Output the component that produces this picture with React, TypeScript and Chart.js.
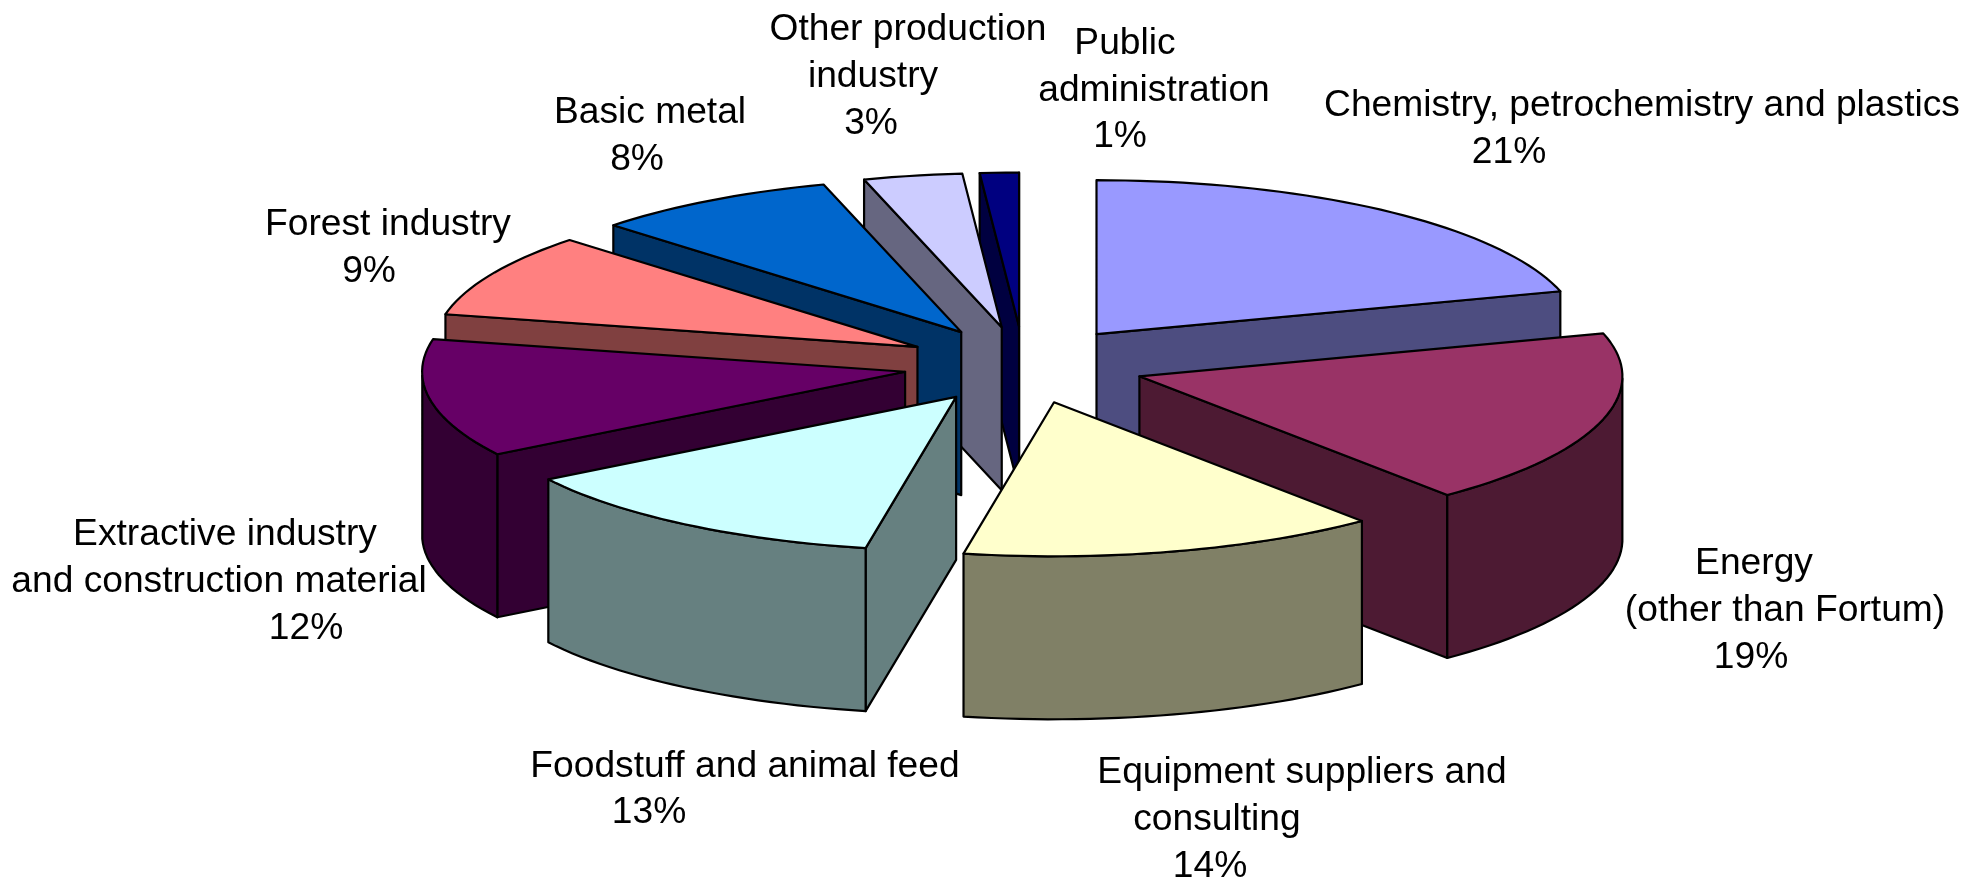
import React, { useEffect, useRef } from "react";
import { Chart, registerables } from "chart.js";

Chart.register(...registerables);

const categories = [
  "Chemistry, petrochemistry and plastics",
  "Energy (other than Fortum)",
  "Equipment suppliers and consulting",
  "Foodstuff and animal feed",
  "Extractive industry and construction material",
  "Forest industry",
  "Basic metal",
  "Other production industry",
  "Public administration",
];
// shares; they round to the printed percentages
const shares = [20.5, 18.5, 14.0, 13.0, 12.4, 8.8, 8.2, 3.3, 1.3];
const topColors = ["#9999FF", "#993366", "#FFFFCC", "#CCFFFF", "#660066", "#FF8080", "#0066CC", "#CCCCFF", "#000080"];
const wallColors = ["#4D4D80", "#4D1A33", "#808066", "#668080", "#330033", "#804040", "#003366", "#666680", "#000040"];

const labelLines = [
  ["Chemistry, petrochemistry and plastics"],
  ["Energy", "(other than Fortum)"],
  ["Equipment suppliers and", "consulting"],
  ["Foodstuff and animal feed"],
  ["Extractive industry", "and construction material"],
  ["Forest industry"],
  ["Basic metal"],
  ["Other production", "industry"],
  ["Public", "administration"],
];
// centre of each printed line (name lines, then the percentage), in full-size pixels
const labelCenters = [
  [[1642, 106], [1509, 153]],
  [[1754, 564], [1785, 611], [1751, 658]],
  [[1302, 773], [1217, 820], [1210, 867]],
  [[745, 767], [649, 813]],
  [[225, 535], [219, 582], [306, 629]],
  [[388, 225], [369, 272]],
  [[650, 113], [637, 160]],
  [[908, 30], [873, 77], [871, 124]],
  [[1125, 44], [1154, 91], [1120, 137]],
];

const W = 1984;
const H = 879;
const CENTER_X = 1024;
const CENTER_Y = 365;
const LIB_R = 300;
const SCALE_X = 483 / LIB_R;
const SCALE_Y = 154 / LIB_R;
const EXPLODE = 0.25;
const DEPTH = 163;
const FONT = '37.2px "Liberation Sans", Arial, sans-serif';

const pie3d = {
  id: "pie3d",
  beforeDatasetsDraw(chart: any) {
    const ctx: CanvasRenderingContext2D = chart.ctx;
    const arcs: any[] = chart.getDatasetMeta(0).data;
    const slices = arcs.map((arc, i) => {
      const mid = (arc.startAngle + arc.endAngle) / 2;
      const ox = arc.x + SCALE_X * EXPLODE * arc.outerRadius * Math.cos(mid);
      const oy = arc.y + SCALE_Y * EXPLODE * arc.outerRadius * Math.sin(mid);
      const at = (a: number, r = arc.outerRadius) => [ox + SCALE_X * r * Math.cos(a), oy + SCALE_Y * r * Math.sin(a)];
      return { arc, i, ox, oy, at };
    });
    const poly = (pts: number[][], fill: string | null) => {
      ctx.beginPath();
      pts.forEach((p, k) => (k ? ctx.lineTo(p[0], p[1]) : ctx.moveTo(p[0], p[1])));
      ctx.closePath();
      if (fill) {
        ctx.fillStyle = fill;
        ctx.fill();
      }
      ctx.stroke();
    };
    ctx.save();
    ctx.lineWidth = 2.2;
    ctx.strokeStyle = "#000";
    ctx.lineJoin = "round";
    [...slices]
      .sort((a, b) => a.oy - b.oy)
      .forEach(({ arc, i, ox, oy, at }) => {
        const { startAngle: a0, endAngle: a1 } = arc;
        const wall = wallColors[i];
        const face = (a: number) => {
          const p = at(a);
          poly([[ox, oy], p, [p[0], p[1] + DEPTH], [ox, oy + DEPTH]], wall);
        };
        if (Math.cos(a0) < 0) face(a0);
        if (Math.cos(a1) > 0) face(a1);
        // outer rim: only the part that faces the viewer
        const rimA: number[] = [];
        const steps = Math.max(2, Math.ceil((a1 - a0) / 0.03));
        for (let k = 0; k <= steps; k++) {
          const a = a0 + ((a1 - a0) * k) / steps;
          if (Math.sin(a) >= -0.001) rimA.push(a);
        }
        if (rimA.length > 1) {
          const up = rimA.map((a) => at(a));
          const down = up.map((p) => [p[0], p[1] + DEPTH]).reverse();
          poly([...up, ...down], wall);
        }
        // top face, drawn by the library's own arc element
        ctx.save();
        ctx.translate(ox, oy);
        ctx.scale(SCALE_X, SCALE_Y);
        ctx.translate(-arc.x, -arc.y);
        arc.draw(ctx);
        ctx.restore();
        const tsteps = Math.max(2, Math.ceil((a1 - a0) / 0.03));
        const outline = [[ox, oy]];
        for (let k = 0; k <= tsteps; k++) outline.push(at(a0 + ((a1 - a0) * k) / tsteps));
        poly(outline, null);
      });
    ctx.restore();
    // labels
    ctx.save();
    ctx.font = FONT;
    ctx.fillStyle = "#000";
    ctx.textAlign = "center";
    ctx.textBaseline = "middle";
    labelLines.forEach((lines, i) => {
      const text = [...lines, `${Math.round(shares[i])}%`];
      text.forEach((t, k) => ctx.fillText(t, labelCenters[i][k][0], labelCenters[i][k][1]));
    });
    ctx.restore();
    return false;
  },
};

export default function App() {
  const ref = useRef<HTMLCanvasElement>(null);
  useEffect(() => {
    const chart = new Chart(ref.current as HTMLCanvasElement, {
      type: "pie",
      data: {
        labels: categories,
        datasets: [{ data: shares, backgroundColor: topColors, borderWidth: 0 }],
      },
      options: {
        animation: false,
        responsive: false,
        layout: {
          padding: {
            left: CENTER_X - LIB_R,
            right: W - CENTER_X - LIB_R,
            top: CENTER_Y - LIB_R,
            bottom: H - CENTER_Y - LIB_R,
          },
        },
        plugins: { legend: { display: false }, tooltip: { enabled: false }, title: { display: false } },
      },
      plugins: [pie3d],
    });
    return () => chart.destroy();
  }, []);
  return (
    <canvas
      ref={ref}
      width={W}
      height={H}
      style={{ position: "fixed", left: 0, top: 0, display: "block", background: "#fff" }}
    />
  );
}
